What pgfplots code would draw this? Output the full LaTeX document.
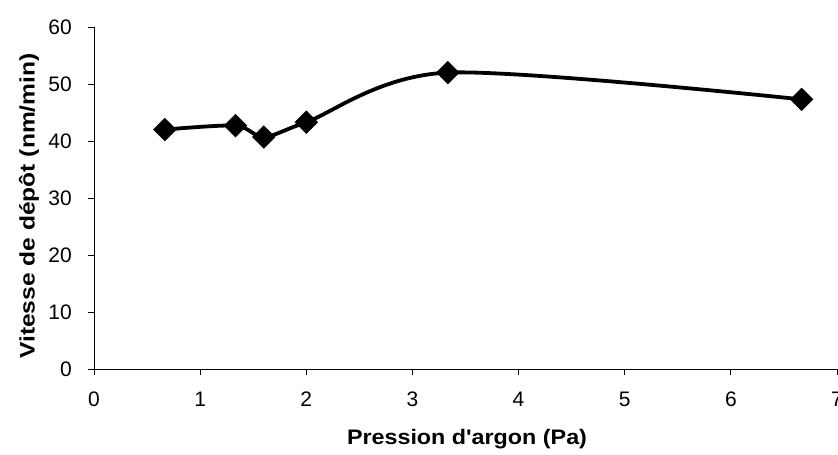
\documentclass[border=0pt]{standalone}
\usepackage{pgfplots}
\pgfplotsset{compat=1.18}
\usepackage{fontspec}
\setmainfont{Liberation Sans}[Ligatures=TeXOff]
\begin{document}
\begin{tikzpicture}[x=1pt,y=1pt]
\useasboundingbox (0,0) rectangle (838,455);
\begin{axis}[
  at={(94pt,86pt)}, anchor=south west,
  scale only axis, width=743pt, height=342pt,
  xmin=0, xmax=7, ymin=0, ymax=60,
  xtick={0,1,...,7}, ytick={0,10,...,60},
  axis x line=bottom, axis y line=left,
  axis line style={-, black, line width=0.9pt},
  tick style={black, line width=0.9pt},
  tick align=outside, major tick length=6pt,
  /pgf/number format/assume math mode=true,
  ticklabel style={font=\fontsize{21}{24}\selectfont, inner sep=0pt},
  xticklabel style={yshift=-17pt},
  yticklabel style={xshift=-16pt},
  clip=false,
]
\addplot[black, line width=3.8pt, smooth, tension=0.5,
  mark=square*, mark size=8pt, mark options={rotate=45, line width=0.5pt}]
  coordinates {(0.667,42) (1.333,42.7) (1.6,40.7) (2.0,43.3) (3.333,52) (6.667,47.3)};
\end{axis}
\node[font=\bfseries\fontsize{21}{24}\selectfont, rotate=90, inner sep=0pt] at (29,249) {\scalebox{1.17}[1]{Vitesse de dépôt (nm/min)}};
\node[font=\bfseries\fontsize{21}{24}\selectfont, inner sep=0pt] at (467,16) {\scalebox{1.11}[1]{Pression d'argon (Pa)}};
\end{tikzpicture}
\end{document}
